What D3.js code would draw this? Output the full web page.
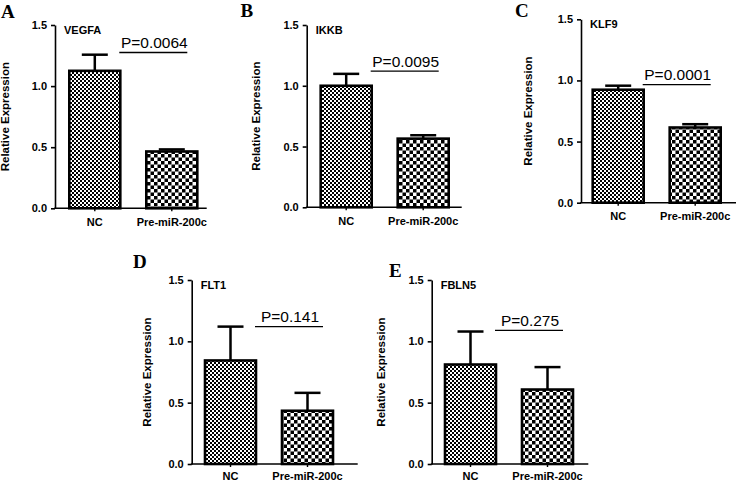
<!DOCTYPE html>
<html>
<head>
<meta charset="utf-8">
<script src="https://cdn.jsdelivr.net/npm/d3@7/dist/d3.min.js"></script>
<style>
  html, body { margin: 0; padding: 0; background: #fff; }
  svg { display: block; }
</style>
</head>
<body>
<svg id="chart" width="736" height="482"></svg>
<script>
// ---------------- data ----------------
const panelLetters = ["A", "B", "C", "D", "E"];
const genes = ["VEGFA", "IKKB", "KLF9", "FLT1", "FBLN5"];
const categories = ["NC", "Pre-miR-200c"];
const ncMeans  = [1.125, 1.000, 0.924, 0.844, 0.811];
const ncErrs   = [0.132, 0.098, 0.033, 0.276, 0.269];
const preMeans = [0.465, 0.565, 0.615, 0.434, 0.607];
const preErrs  = [0.017, 0.028, 0.027, 0.146, 0.183];
const pLabels  = ["P=0.0064", "P=0.0095", "P=0.0001", "P=0.141", "P=0.275"];
const pLineLevels = [1.275, 1.12, 0.965, 1.12, 1.09];
const yTicks = [0, 0.5, 1.0, 1.5];
const yDomain = [0, 1.5];
const yLabel = "Relative Expression";

// ---------------- layout (pixels) ----------------
const layout = [
  {ax: 55,    axEnd: 206.7, top: 25,   bottom: 208.3, barOff: 14.3, lx: 1,     ly: 18,  ylab: 46, xpad: 7},
  {ax: 306.7, axEnd: 461.7, top: 25,   bottom: 207.3, barOff: 14.0, lx: 240.5, ly: 17,  ylab: 47, xpad: 7},
  {ax: 581,   axEnd: 740,   top: 19.3, bottom: 202.7, barOff: 11.7, lx: 515,   ly: 17,  ylab: 49, xpad: 7},
  {ax: 191.7, axEnd: 357.7, top: 280,  bottom: 464,   barOff: 13.3, lx: 133,   ly: 268, ylab: 41, xpad: 5.5},
  {ax: 431.7, axEnd: 588.3, top: 280,  bottom: 464,   barOff: 13.3, lx: 389,   ly: 277, ylab: 47, xpad: 5.5}
];
const STEP = 77, BW = 51;
const sans = "'Liberation Sans', Arial, Helvetica, sans-serif";
const serif = "'Liberation Serif', 'Times New Roman', serif";

const svg = d3.select("#chart");
const defs = svg.append("defs");

// fine checkerboard for NC
const pFine = defs.append("pattern").attr("id", "fine")
  .attr("patternUnits", "userSpaceOnUse").attr("width", 4).attr("height", 4);
pFine.append("rect").attr("width", 4).attr("height", 4).attr("fill", "#fff");
pFine.append("rect").attr("width", 2).attr("height", 2).attr("fill", "#000");
pFine.append("rect").attr("x", 2).attr("y", 2).attr("width", 2).attr("height", 2).attr("fill", "#000");

// coarse checkerboard for Pre-miR-200c
const pCoarse = defs.append("pattern").attr("id", "coarse")
  .attr("patternUnits", "userSpaceOnUse").attr("width", 7).attr("height", 7);
pCoarse.append("rect").attr("width", 7).attr("height", 7).attr("fill", "#fff");
pCoarse.append("rect").attr("width", 3.5).attr("height", 3.5).attr("fill", "#000");
pCoarse.append("rect").attr("x", 3.5).attr("y", 3.5).attr("width", 3.5).attr("height", 3.5).attr("fill", "#000");

const fills = ["url(#fine)", "url(#coarse)"];

genes.forEach((gene, i) => {
  const L = layout[i];
  const g = svg.append("g");

  const y = d3.scaleLinear().domain(yDomain).range([L.bottom, L.top]);

  const pi = (STEP - BW) / STEP;
  const po = 0.2;
  const total = STEP * (categories.length - pi + 2 * po);
  const r0 = L.ax + L.barOff - po * STEP;
  const x = d3.scaleBand().domain(categories).range([r0, r0 + total])
    .paddingInner(pi).paddingOuter(po);

  const means = [ncMeans[i], preMeans[i]];
  const errs = [ncErrs[i], preErrs[i]];
  const rows = categories.map((c, k) => ({c, m: means[k], e: errs[k], k}));

  // error bars (drawn first, bar outline on top)
  rows.forEach(d => {
    const cx = x(d.c) + x.bandwidth() / 2;
    g.append("line").attr("x1", cx).attr("x2", cx)
      .attr("y1", y(d.m)).attr("y2", y(d.m + d.e))
      .attr("stroke", "#000").attr("stroke-width", 2.5);
    g.append("line").attr("x1", cx - 13).attr("x2", cx + 13)
      .attr("y1", y(d.m + d.e)).attr("y2", y(d.m + d.e))
      .attr("stroke", "#000").attr("stroke-width", 2.5);
  });

  // bars
  g.selectAll("rect.bar").data(rows).enter().append("rect")
    .attr("class", "bar")
    .attr("x", d => x(d.c))
    .attr("y", d => y(d.m))
    .attr("width", x.bandwidth())
    .attr("height", d => y(0) - y(d.m))
    .attr("fill", d => fills[d.k])
    .attr("stroke", "#000").attr("stroke-width", 2.6);

  // y axis
  const yAxis = d3.axisLeft(y).tickValues(yTicks).tickFormat(d3.format(".1f"))
    .tickSize(4).tickSizeOuter(0).tickPadding(4);
  const ya = g.append("g").attr("transform", `translate(${L.ax},0)`).call(yAxis);
  ya.select(".domain").attr("stroke", "#000").attr("stroke-width", 1.6);
  ya.selectAll(".tick line").attr("stroke", "#000").attr("stroke-width", 1.6);
  ya.selectAll(".tick text").attr("font-family", sans).attr("font-weight", "bold")
    .attr("font-size", 11).attr("fill", "#000");

  // x axis
  g.append("line").attr("x1", L.ax - 0.8).attr("x2", L.axEnd)
    .attr("y1", L.bottom).attr("y2", L.bottom)
    .attr("stroke", "#000").attr("stroke-width", 1.6);
  const xAxis = d3.axisBottom(x).tickSize(3).tickSizeOuter(0).tickPadding(L.xpad);
  const xa = g.append("g").attr("transform", `translate(0,${L.bottom})`).call(xAxis);
  xa.select(".domain").remove();
  xa.selectAll(".tick line").attr("stroke", "#000").attr("stroke-width", 1.4);
  xa.selectAll(".tick text").attr("font-family", sans).attr("font-weight", "bold")
    .attr("font-size", 11).attr("fill", "#000").attr("dy", "0.71em");

  // y label
  g.append("text")
    .attr("transform", `translate(${L.ax - L.ylab},${(L.top + L.bottom) / 2}) rotate(-90)`)
    .attr("text-anchor", "middle")
    .attr("font-family", sans).attr("font-weight", "bold").attr("font-size", 11.5)
    .text(yLabel);

  // gene label
  g.append("text").attr("x", L.ax + 9).attr("y", L.top + 9)
    .attr("font-family", sans).attr("font-weight", "bold").attr("font-size", 11)
    .text(gene);

  // p-value annotation
  const lx0 = x(categories[0]) + x.bandwidth() - 1;
  const lx1 = x(categories[1]) + x.bandwidth() - 10;
  const ly = y(pLineLevels[i]);
  g.append("line").attr("x1", lx0).attr("x2", lx1).attr("y1", ly).attr("y2", ly)
    .attr("stroke", "#000").attr("stroke-width", 1.3);
  g.append("text").attr("x", (lx0 + lx1) / 2 + 1).attr("y", ly - 4.5)
    .attr("text-anchor", "middle")
    .attr("font-family", sans).attr("font-size", 15.5)
    .text(pLabels[i]);

  // panel letter
  svg.append("text").attr("x", L.lx).attr("y", L.ly)
    .attr("font-family", serif).attr("font-weight", "bold").attr("font-size", 19)
    .text(panelLetters[i]);
});
</script>
</body>
</html>
